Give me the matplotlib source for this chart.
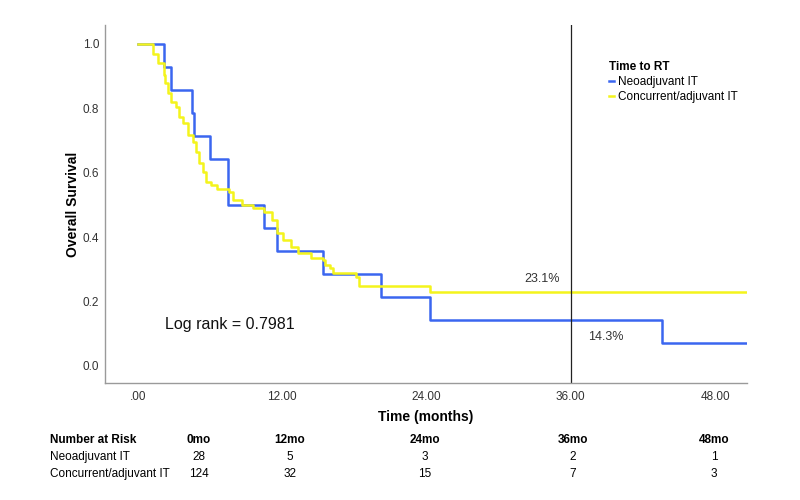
import numpy as np
import matplotlib.pyplot as plt

plt.rcParams['font.family'] = ['Liberation Sans', 'DejaVu Sans']

# Kaplan-Meier step data (months, survival)
neo_times = [0, 2.15, 2.75, 4.5, 4.65, 6.0, 7.5, 10.5, 11.6, 15.4, 20.2, 24.3, 43.6, 50.6]
neo_surv = [1.0, 0.929, 0.857, 0.786, 0.714, 0.643, 0.5, 0.429, 0.357, 0.286, 0.214, 0.143, 0.071, 0.071]

conc_times = [0, 1.25, 1.66, 2.16, 2.3, 2.5, 2.74, 3.16, 3.4, 3.8, 4.15, 4.57, 4.8, 5.07,
              5.4, 5.65, 6.06, 6.6, 7.56, 7.9, 8.7, 9.6, 10.5, 11.2, 11.6, 12.1, 12.7,
              13.3, 14.4, 15.4, 15.6, 16.0, 16.2, 18.1, 18.4, 24.3, 50.6]
conc_surv = [1.0, 0.970, 0.941, 0.904, 0.880, 0.848, 0.820, 0.804, 0.773, 0.755, 0.717,
             0.696, 0.665, 0.630, 0.602, 0.571, 0.562, 0.550, 0.540, 0.516, 0.500, 0.491,
             0.478, 0.453, 0.413, 0.391, 0.370, 0.351, 0.335, 0.329, 0.314, 0.304, 0.289,
             0.276, 0.248, 0.231, 0.231]

groups = ['Neoadjuvant IT', 'Concurrent/adjuvant IT']
xticks = [0, 12, 24, 36, 48]
xtick_labels = ['.00', '12.00', '24.00', '36.00', '48.00']
yticks = [0.0, 0.2, 0.4, 0.6, 0.8, 1.0]

risk_cols = ['0mo', '12mo', '24mo', '36mo', '48mo']
risk_neo = [28, 5, 3, 2, 1]
risk_conc = [124, 32, 15, 7, 3]

blue = '#3b66f0'
yellow = '#f4f41c'
grey = '#333333'

fig = plt.figure(figsize=(8, 5), dpi=100)
ax = fig.add_axes([0.131, 0.234, 0.803, 0.716])

ax.step(neo_times, neo_surv, where='post', color=blue, lw=1.8, label=groups[0])
ax.step(conc_times, conc_surv, where='post', color=yellow, lw=1.8, label=groups[1])
ax.axvline(36, color='#222222', lw=0.9)

ax.set_xlim(-2.74, 50.66)
ax.set_ylim(-0.053, 1.059)
ax.set_xticks(xticks)
ax.set_xticklabels(xtick_labels)
ax.set_yticks(yticks)
ax.set_yticklabels([f'{v:.1f}' for v in yticks])
ax.tick_params(length=0, labelsize=8.5, labelcolor=grey)
ax.tick_params(axis='x', pad=6)
ax.tick_params(axis='y', pad=4)
for s in ['top', 'right']:
    ax.spines[s].set_visible(False)
for s in ['left', 'bottom']:
    ax.spines[s].set_color('#9a9a9a')
    ax.spines[s].set_linewidth(1.0)

ax.set_xlabel('Time (months)', fontsize=10, fontweight='bold')
ax.xaxis.set_label_coords(0.5, -0.075)
ax.set_ylabel('Overall Survival', fontsize=10, fontweight='bold', labelpad=2)

ax.text(33.6, 0.27, '23.1%', fontsize=9, color=grey, ha='center', va='center')
ax.text(38.9, 0.09, '14.3%', fontsize=9, color=grey, ha='center', va='center')
ax.text(2.3, 0.13, 'Log rank = 0.7981', fontsize=11.5, color='#111111', ha='left', va='center')

leg = ax.legend(title='Time to RT', loc='upper left', bbox_to_anchor=(0.775, 0.915),
                frameon=False, borderpad=0, handlelength=0.5, handletextpad=0.3,
                labelspacing=0.25, fontsize=8.5, alignment='left',
                title_fontproperties={'weight': 'bold', 'size': 8.5})

# number-at-risk table
col_x = [199, 290, 425, 573, 714]
row_y = [440, 457, 474]
fig.text(50 / 800, 1 - row_y[0] / 500, 'Number at Risk', fontsize=8.5, fontweight='bold',
         ha='left', va='center')
fig.text(50 / 800, 1 - row_y[1] / 500, groups[0], fontsize=8.5, ha='left', va='center')
fig.text(50 / 800, 1 - row_y[2] / 500, groups[1], fontsize=8.5, ha='left', va='center')
for i, cx in enumerate(col_x):
    fig.text(cx / 800, 1 - row_y[0] / 500, risk_cols[i], fontsize=8.5, fontweight='bold',
             ha='center', va='center')
    fig.text(cx / 800, 1 - row_y[1] / 500, str(risk_neo[i]), fontsize=8.5, ha='center', va='center')
    fig.text(cx / 800, 1 - row_y[2] / 500, str(risk_conc[i]), fontsize=8.5, ha='center', va='center')

fig.savefig('out.png', dpi=100)
